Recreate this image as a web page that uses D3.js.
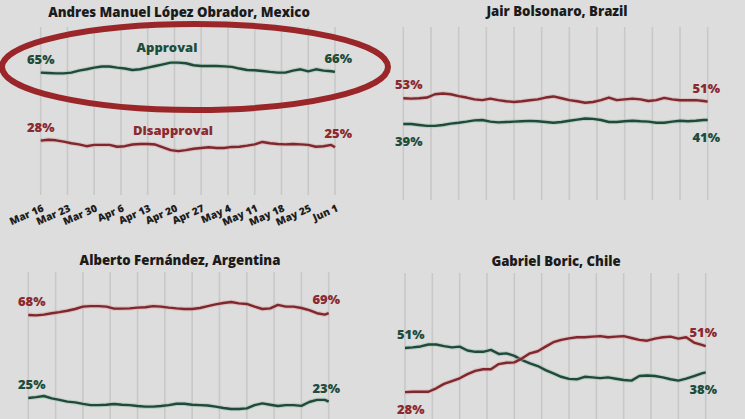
<!DOCTYPE html>
<html>
<head>
<meta charset="utf-8">
<script src="https://cdn.jsdelivr.net/npm/d3@7"></script>
<style>
  html, body { margin: 0; padding: 0; background: #dddddd; overflow: hidden; }
  svg { display: block; font-family: "Open Sans", Lato, sans-serif; font-weight: 800; }
</style>
</head>
<body>
<div id="app"></div>
<script>
// every second day, Mar 16 -> Jun 1 2022
const dates = [
  '2022-03-16', '2022-03-18', '2022-03-20', '2022-03-22', '2022-03-24', '2022-03-26', '2022-03-28', '2022-03-30',
  '2022-04-01', '2022-04-03', '2022-04-05', '2022-04-07', '2022-04-09', '2022-04-11', '2022-04-13', '2022-04-15',
  '2022-04-17', '2022-04-19', '2022-04-21', '2022-04-23', '2022-04-25', '2022-04-27', '2022-04-29', '2022-05-01',
  '2022-05-03', '2022-05-05', '2022-05-07', '2022-05-09', '2022-05-11', '2022-05-13', '2022-05-15', '2022-05-17',
  '2022-05-19', '2022-05-21', '2022-05-23', '2022-05-25', '2022-05-27', '2022-05-29', '2022-05-31', '2022-06-01'
];
const tickLabels = ['Mar 16', 'Mar 23', 'Mar 30', 'Apr 6', 'Apr 13', 'Apr 20', 'Apr 27', 'May 4', 'May 11', 'May 18', 'May 25', 'Jun 1'];

const mexicoApproval = [
  65.0, 64.8, 64.6, 64.6, 65.0, 66.1, 66.8, 67.7, 68.3, 68.3, 67.7, 67.2, 66.4, 66.8, 67.7, 68.6,
  69.5, 70.4, 70.4, 70.1, 69.0, 68.6, 68.6, 68.6, 68.4, 68.1, 67.2, 66.4, 66.3, 65.9, 65.4, 65.0,
  65.0, 66.1, 66.8, 65.7, 66.8, 66.1, 65.7, 65.4
];
const mexicoDisapproval = [
  28.0, 28.5, 28.2, 27.5, 26.6, 26.0, 25.0, 25.7, 25.7, 25.7, 24.7, 25.0, 25.9, 26.2, 26.2, 25.9,
  24.4, 22.9, 22.3, 22.9, 23.6, 24.0, 24.4, 24.0, 24.0, 24.6, 24.7, 25.3, 26.0, 27.3, 26.6, 26.2,
  26.0, 26.2, 26.0, 25.7, 24.7, 25.0, 25.7, 24.4
];
const brazilApproval = [
  39.0, 39.0, 38.5, 38.0, 38.0, 38.5, 39.2, 39.7, 40.3, 41.0, 41.2, 40.3, 39.9, 40.1, 40.3, 40.5,
  40.7, 40.5, 40.1, 39.7, 40.1, 40.8, 41.4, 42.0, 41.8, 41.2, 40.1, 40.1, 40.5, 40.8, 40.5, 40.3,
  39.7, 39.7, 40.3, 40.8, 40.5, 40.8, 41.2, 41.2
];
const brazilDisapproval = [
  53.0, 52.8, 53.0, 53.4, 55.2, 55.6, 55.2, 54.2, 53.4, 52.4, 52.0, 52.8, 52.0, 51.4, 51.0, 51.4,
  51.9, 52.4, 53.4, 54.0, 53.0, 52.0, 51.4, 50.6, 51.0, 52.0, 53.4, 52.0, 52.4, 52.8, 52.4, 51.5,
  52.0, 53.2, 52.4, 51.9, 51.9, 52.0, 51.5, 51.2
];
const argentinaApproval = [
  25.0, 25.4, 26.0, 24.8, 24.0, 23.1, 22.7, 21.9, 21.3, 21.3, 21.5, 21.9, 21.5, 21.3, 20.8, 20.5,
  20.5, 20.8, 21.3, 22.0, 22.0, 21.5, 21.3, 21.1, 20.5, 19.8, 19.3, 19.3, 19.6, 21.3, 22.2, 21.5,
  20.8, 21.3, 21.3, 20.9, 22.9, 24.0, 24.0, 23.1
];
const argentinaDisapproval = [
  68.0, 67.8, 68.2, 68.9, 69.5, 70.2, 71.1, 72.3, 72.6, 72.6, 72.3, 71.3, 71.3, 71.4, 71.8, 72.0,
  72.6, 72.3, 71.8, 71.4, 71.1, 71.1, 71.6, 72.6, 73.5, 74.2, 74.7, 74.0, 73.7, 72.3, 71.1, 71.4,
  73.2, 72.3, 72.3, 71.6, 70.5, 68.9, 68.2, 68.9
];
const chileApproval = [
  51.0, 51.3, 51.8, 52.8, 52.8, 52.0, 51.3, 51.7, 49.7, 49.0, 49.0, 50.0, 47.9, 48.2, 46.9, 44.7,
  43.0, 41.6, 39.5, 37.8, 36.0, 34.9, 34.7, 36.0, 35.7, 35.3, 35.7, 35.0, 34.3, 34.0, 36.4, 36.7,
  36.4, 35.7, 34.7, 34.0, 35.0, 36.4, 37.8, 38.3
];
const chileDisapproval = [
  28.0, 28.2, 28.2, 28.2, 30.0, 32.3, 33.7, 35.2, 37.4, 39.1, 39.9, 39.9, 42.6, 43.3, 43.5, 45.6,
  48.2, 49.3, 51.7, 54.0, 55.2, 56.0, 56.6, 56.6, 56.9, 57.2, 56.6, 56.9, 57.2, 56.2, 55.2, 54.8,
  55.9, 56.6, 56.9, 55.9, 56.6, 53.8, 52.6, 52.0
];

const titles = ['Andres Manuel López Obrador, Mexico', 'Jair Bolsonaro, Brazil', 'Alberto Fernández, Argentina', 'Gabriel Boric, Chile'];
const startLabels = [['65%', '28%'], ['39%', '53%'], ['25%', '68%'], ['51%', '28%']];
const endLabels = [['66%', '25%'], ['41%', '51%'], ['23%', '69%'], ['38%', '51%']];

const width = 745;
const height = 419;
const green = '#1f4a39';
const red = '#7e272c';
const greenText = '#1e4d3b';
const redText = '#8b2a30';

const parse = d3.timeParse('%Y-%m-%d');
const parseTick = d3.timeParse('%b %d %Y');
const days = dates.map(parse);
const ticks = tickLabels.map(t => parseTick(t + ' 2022'));

// panel layout: x range, y of 0% and 100%, grid extent, title position,
// label side for each series (approval, disapproval) at start / end
const layout = [
  { x0: 40.7, x1: 335, y0: 192.2, y100: 8.2, gTop: 27, gBot: 195, tx: 179, ty: 17, lx0: 27, lx1: 352,
    side: [['up', 'up'], ['up', 'up']], axis: true },
  { x0: 403.3, x1: 707.7, y0: 195.8, y100: 11.8, gTop: 27, gBot: 200, tx: 557, ty: 16, lx0: 395, lx1: 720,
    side: [['down', 'down'], ['up', 'up']] },
  { x0: 28.3, x1: 328.7, y0: 446.2, y100: 253.2, gTop: 272, gBot: 420, tx: 180, ty: 265, lx0: 18, lx1: 340,
    side: [['up', 'up'], ['up', 'up']] },
  { x0: 405, x1: 705.7, y0: 445.9, y100: 253.9, gTop: 273, gBot: 420, tx: 556, ty: 266, lx0: 397, lx1: 717,
    side: [['up', 'down'], ['down', 'up']] }
];

const series = [
  [mexicoApproval, mexicoDisapproval],
  [brazilApproval, brazilDisapproval],
  [argentinaApproval, argentinaDisapproval],
  [chileApproval, chileDisapproval]
];

const svg = d3.select('#app').append('svg')
  .attr('width', width)
  .attr('height', height);

svg.append('rect')
  .attr('width', width)
  .attr('height', height)
  .attr('fill', '#dddddd');

layout.forEach((p, i) => {
  const x = d3.scaleTime()
    .domain([days[0], days[days.length - 1]])
    .range([p.x0, p.x1]);
  const y = d3.scaleLinear()
    .domain([0, 100])
    .range([p.y0, p.y100]);

  const g = svg.append('g');

  g.append('g')
    .selectAll('line')
    .data(ticks)
    .join('line')
    .attr('x1', d => x(d))
    .attr('x2', d => x(d))
    .attr('y1', p.gTop)
    .attr('y2', p.gBot)
    .attr('stroke', '#c8c8c8')
    .attr('stroke-width', 1.6);

  if (p.axis) {
    const axis = d3.axisBottom(x)
      .tickValues(ticks)
      .tickFormat((_, k) => tickLabels[k])
      .tickSize(0);
    const ax = g.append('g')
      .attr('transform', `translate(0, ${p.gBot + 10})`)
      .call(axis);
    ax.select('.domain').remove();
    ax.selectAll('text')
      .attr('font-family', '"Open Sans", Lato, sans-serif')
      .attr('font-weight', 800)
      .attr('font-size', 10.3)
      .attr('fill', '#1e1e1e')
      .attr('text-anchor', 'end')
      .attr('dy', 0)
      .attr('transform', 'translate(2, 3) rotate(-24)');
  }

  g.append('text')
    .attr('x', p.tx)
    .attr('y', p.ty)
    .attr('text-anchor', 'middle')
    .attr('font-size', 13.2)
    .attr('fill', '#1b1b1b')
    .text(titles[i]);

  const line = d3.line()
    .x((_, k) => x(days[k]))
    .y(d => y(d));

  series[i].forEach((vals, s) => {
    const col = s === 0 ? green : red;
    const txt = s === 0 ? greenText : redText;
    g.append('path')
      .datum(vals)
      .attr('d', line)
      .attr('fill', 'none')
      .attr('stroke', s === 0 ? '#9fbfae' : '#d8a3a6')
      .attr('stroke-width', 4.5)
      .attr('stroke-opacity', 0.5)
      .attr('stroke-linejoin', 'round');
    g.append('path')
      .datum(vals)
      .attr('d', line)
      .attr('fill', 'none')
      .attr('stroke', col)
      .attr('stroke-width', 2.4)
      .attr('stroke-linejoin', 'round');

    const first = vals[0];
    const last = vals[vals.length - 1];
    const off = side => side === 'up' ? -9 : 22;
    g.append('text')
      .attr('x', p.lx0)
      .attr('y', y(first) + off(p.side[s][0]))
      .attr('font-size', 13)
      .attr('fill', txt)
      .text(startLabels[i][s]);
    g.append('text')
      .attr('x', p.lx1)
      .attr('y', y(last) + off(p.side[s][1]))
      .attr('text-anchor', 'end')
      .attr('font-size', 13)
      .attr('fill', txt)
      .text(endLabels[i][s]);
  });

  if (i === 0) {
    g.append('text')
      .attr('x', 167)
      .attr('y', 52)
      .attr('text-anchor', 'middle')
      .attr('font-size', 13)
      .attr('fill', greenText)
      .text('Approval');
    g.append('text')
      .attr('x', 173)
      .attr('y', 135)
      .attr('text-anchor', 'middle')
      .attr('font-size', 13)
      .attr('fill', redText)
      .text('Disapproval');
  }
});

// hand-drawn highlight round the Mexico approval line
svg.append('ellipse')
  .attr('cx', 195)
  .attr('cy', 67)
  .attr('rx', 193)
  .attr('ry', 43)
  .attr('fill', 'none')
  .attr('stroke', '#9a2629')
  .attr('stroke-width', 6);
</script>
</body>
</html>
